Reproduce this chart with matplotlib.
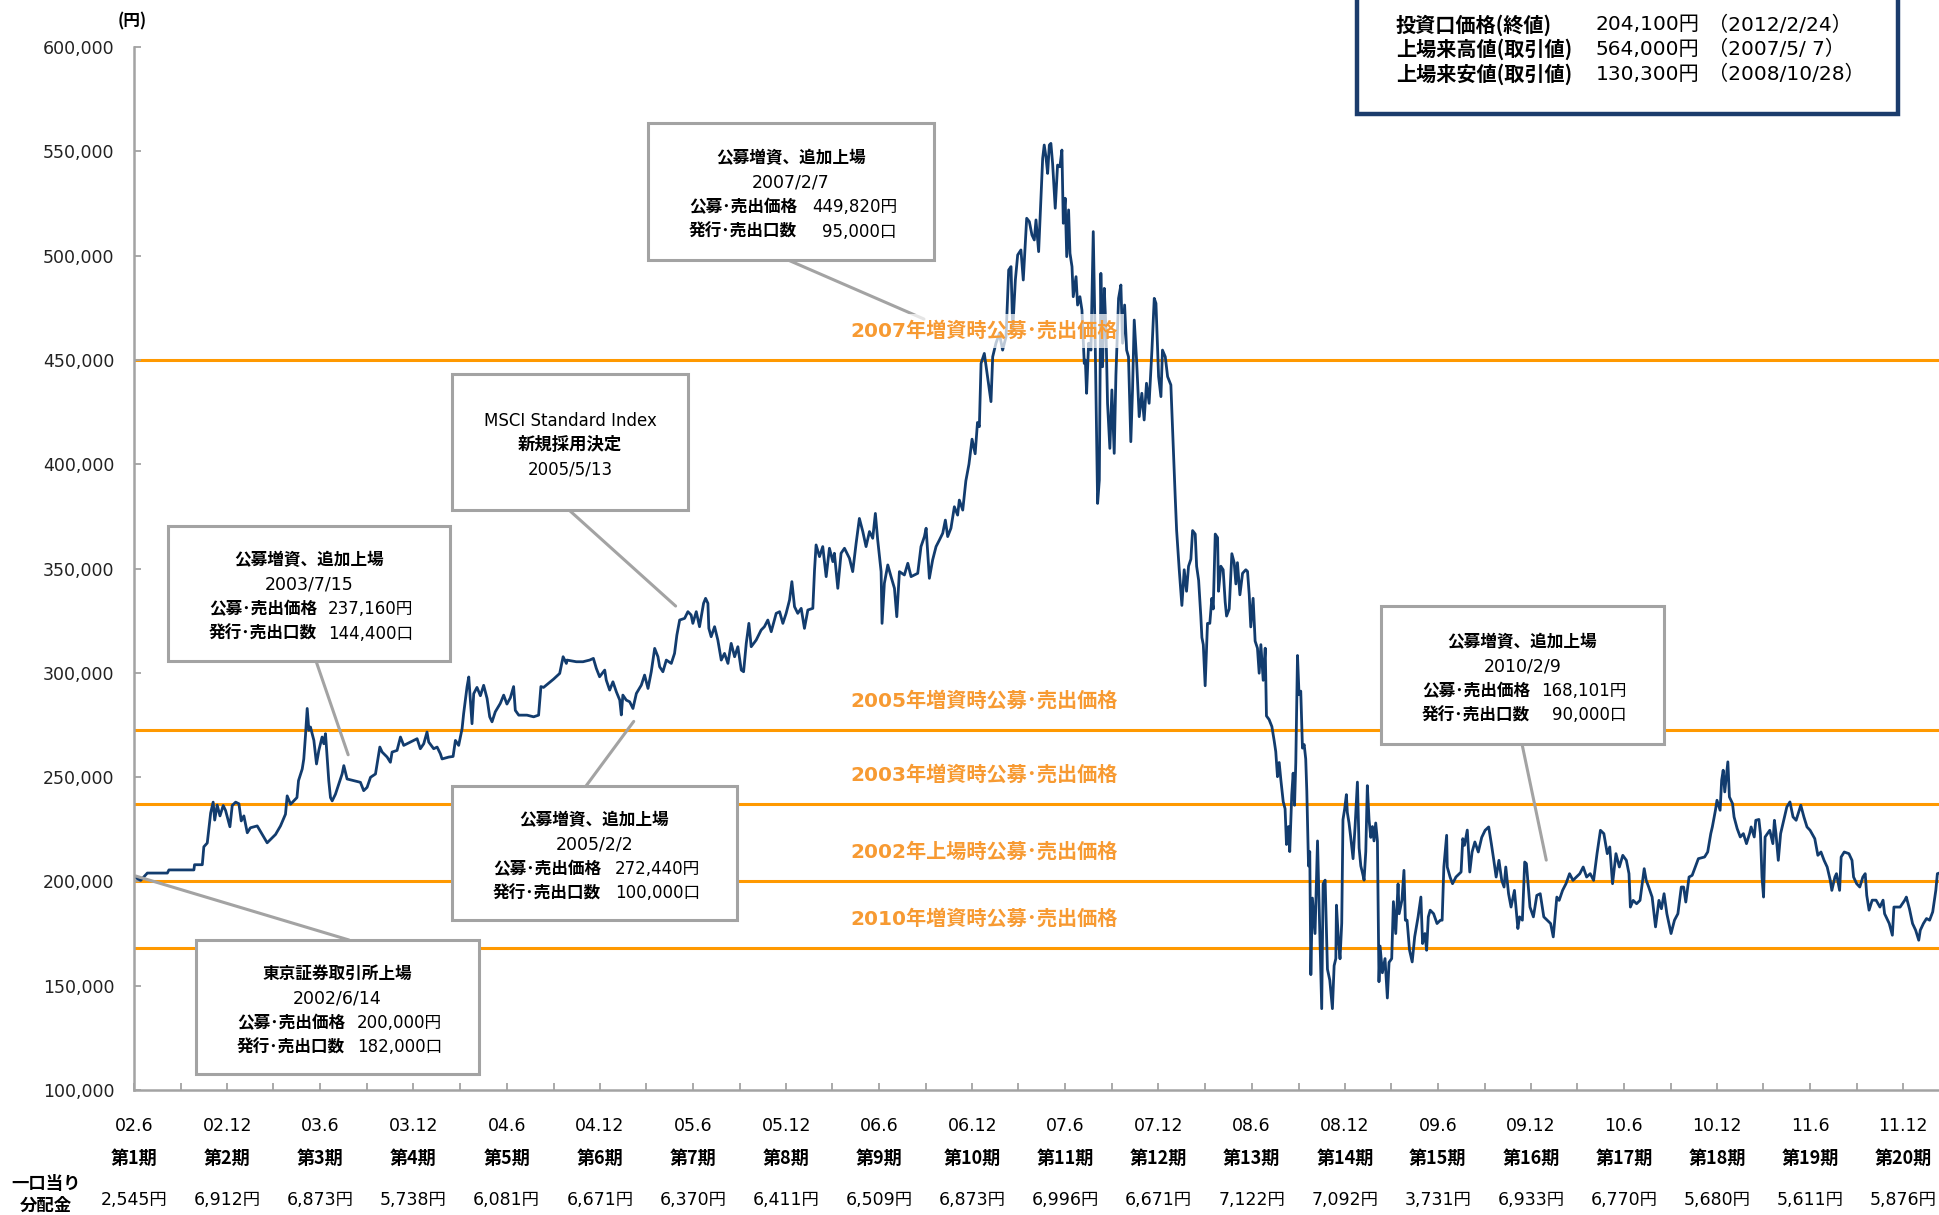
import matplotlib.pyplot as plt
import matplotlib.ticker as mticker
from matplotlib.patches import Rectangle
import numpy as np
import pandas as pd

plt.rcParams['font.family'] = ['DejaVu Sans', 'Noto Sans CJK JP']
CJK = ['Noto Sans CJK JP', 'DejaVu Sans']

listing_day = pd.Timestamp('2002-06-14')
last_day = pd.Timestamp('2012-02-24')

# unit price: (months since listing, price in thousand yen)
trace_2002_2004 = [
    (0.0, 202.2), (0.43, 200.5), (0.86, 204.0), (2.15, 204.0), (2.25, 205.5), (3.86, 205.5),
    (3.9, 208.0), (4.4, 208.0), (4.5, 216.6), (4.72, 218.4), (4.94, 232.8), (5.1, 238.0),
    (5.2, 229.4), (5.36, 236.6), (5.54, 231.4), (5.75, 236.4), (5.9, 234.0), (6.18, 226.2),
    (6.33, 236.4), (6.55, 238.0), (6.76, 237.2), (6.91, 229.0), (7.08, 231.4), (7.3, 223.3),
    (7.5, 225.7), (7.94, 226.6), (8.26, 222.5), (8.58, 218.5), (8.8, 220.1), (9.12, 222.5),
    (9.44, 226.6), (9.76, 232.2), (9.87, 241.0), (10.09, 237.0), (10.5, 240.2), (10.6, 248.3),
    (10.84, 253.9), (10.94, 258.7), (11.05, 270.0), (11.16, 282.9), (11.27, 272.4), (11.37, 274.0),
    (11.59, 267.6), (11.76, 256.3), (11.91, 262.8), (12.12, 269.2), (12.23, 266.0), (12.34, 270.8),
    (12.45, 258.7), (12.55, 248.3), (12.66, 240.2), (12.77, 238.6), (12.98, 241.8), (13.2, 246.7),
    (13.41, 251.5), (13.52, 255.5), (13.73, 249.1), (14.16, 248.3), (14.59, 247.5), (14.8, 243.5),
    (15.02, 245.1), (15.24, 249.9), (15.56, 251.5), (15.84, 264.4), (15.99, 262.0), (16.31, 259.6),
    (16.52, 257.1), (16.63, 262.0), (16.95, 262.8), (17.17, 269.2), (17.38, 265.2), (17.81, 266.8),
    (18.24, 268.4), (18.45, 263.6), (18.67, 266.0), (18.88, 271.6), (18.99, 266.8), (19.31, 263.6),
    (19.53, 264.4), (19.74, 261.2), (19.85, 258.7), (20.28, 259.6), (20.56, 259.9), (20.71, 267.6),
    (20.92, 265.2), (21.14, 273.2), (21.24, 280.4), (21.46, 293.3), (21.57, 298.0), (21.78, 275.6),
    (21.89, 290.0), (22.1, 293.0), (22.32, 289.0), (22.53, 294.0), (22.75, 287.7), (22.92, 278.9),
    (23.07, 276.5), (23.28, 281.3), (23.6, 285.3), (23.82, 289.3), (24.03, 285.0), (24.25, 288.0),
    (24.46, 293.4), (24.57, 282.0), (24.79, 279.7), (25.32, 279.7), (25.75, 278.9), (26.07, 279.7),
    (26.22, 293.4), (26.39, 293.0), (26.72, 295.0), (27.04, 297.0),
]
trace_2004_2006 = [
    (27.43, 299.7), (27.65, 307.7), (27.86, 304.5), (27.9, 306.1), (28.5, 305.3), (28.93, 305.3),
    (29.36, 306.1), (29.6, 306.9), (29.79, 302.1), (30.0, 298.1), (30.33, 301.3), (30.43, 296.5),
    (30.65, 291.7), (30.86, 295.7), (31.08, 290.9), (31.3, 286.9), (31.4, 279.8), (31.5, 289.3),
    (31.72, 286.9), (31.94, 286.1), (32.15, 282.9), (32.37, 290.1), (32.69, 294.1), (32.9, 298.9),
    (33.12, 292.5), (33.33, 300.5), (33.55, 311.7), (33.76, 307.7), (33.87, 302.9), (34.08, 300.5),
    (34.3, 306.1), (34.62, 304.5), (34.83, 309.3), (34.98, 318.1), (35.16, 325.3), (35.48, 326.1),
    (35.69, 329.3), (35.9, 327.7), (36.01, 323.7), (36.23, 329.3), (36.44, 322.1), (36.7, 333.3),
    (36.83, 335.7), (36.98, 333.3), (37.04, 321.3), (37.19, 317.3), (37.41, 322.1), (37.62, 315.7),
    (37.84, 306.1), (38.05, 309.3), (38.27, 304.5), (38.48, 314.1), (38.7, 307.7), (38.91, 312.5),
    (39.13, 301.3), (39.28, 300.5), (39.45, 314.1), (39.62, 323.7), (39.77, 312.5), (40.09, 315.7),
    (40.41, 320.5), (40.62, 322.1), (40.84, 325.3), (41.06, 319.7), (41.38, 328.5), (41.6, 329.3),
    (41.81, 323.7), (42.02, 328.5), (42.24, 334.9), (42.39, 343.7), (42.56, 331.7), (42.77, 328.5),
    (42.99, 330.9), (43.2, 321.3), (43.42, 330.1), (43.74, 330.9), (43.85, 349.3), (43.95, 361.3),
    (44.17, 355.7), (44.38, 360.5), (44.6, 346.1), (44.81, 359.7), (45.03, 353.3), (45.13, 357.3),
    (45.35, 340.5), (45.56, 357.3), (45.78, 359.7), (46.1, 354.9), (46.31, 348.5), (46.53, 362.1),
    (46.74, 374.0), (46.96, 367.7), (47.17, 360.5), (47.39, 367.7), (47.6, 364.5), (47.77, 376.4),
    (47.92, 363.7), (48.14, 348.5), (48.2, 323.7), (48.35, 342.9), (48.57, 351.7), (48.78, 346.1),
    (49.0, 340.5), (49.15, 326.9), (49.32, 348.5), (49.64, 346.9), (49.86, 352.5), (50.07, 346.1),
    (50.5, 347.7), (50.71, 360.5), (50.93, 365.3), (51.04, 369.3), (51.25, 345.3), (51.46, 354.1),
    (51.68, 360.5), (51.9, 363.7), (52.11, 366.9), (52.28, 373.2), (52.43, 365.3), (52.64, 369.3),
    (52.86, 379.6), (53.07, 375.6), (53.18, 382.8), (53.4, 378.0), (53.6, 392.0), (53.8, 400.0),
    (54.0, 412.0), (54.2, 405.0), (54.35, 420.0),
]
trace_2006_2008 = [
    (54.47, 418.0), (54.58, 448.3), (54.79, 453.1), (55.0, 442.0), (55.22, 430.0), (55.33, 451.5),
    (55.54, 458.0), (55.76, 462.7), (55.97, 454.7), (56.19, 461.1), (56.36, 493.1), (56.51, 494.7),
    (56.62, 464.3), (56.79, 488.3), (56.94, 500.3), (57.15, 502.7), (57.3, 488.3), (57.43, 505.9),
    (57.52, 517.9), (57.69, 516.3), (57.86, 509.9), (58.01, 507.5), (58.12, 517.1), (58.29, 501.9),
    (58.44, 528.2), (58.55, 546.6), (58.65, 553.0), (58.76, 547.4), (58.87, 539.4), (58.98, 553.0),
    (59.08, 553.8), (59.19, 544.2), (59.36, 522.7), (59.51, 543.4), (59.66, 542.6), (59.79, 550.6),
    (59.88, 515.5), (60.0, 527.5), (60.1, 499.5), (60.22, 521.9), (60.31, 501.1), (60.44, 494.7),
    (60.52, 480.3), (60.7, 489.9), (60.8, 476.3), (60.95, 480.3), (61.08, 473.9), (61.23, 448.3),
    (61.3, 449.9), (61.38, 434.0), (61.51, 458.0), (61.66, 454.7), (61.81, 511.5), (61.94, 456.3),
    (62.09, 381.2), (62.2, 392.4), (62.3, 491.5), (62.41, 446.7), (62.52, 484.3), (62.63, 464.3),
    (62.73, 429.2), (62.88, 407.6), (63.01, 435.6), (63.16, 405.2), (63.27, 442.8), (63.44, 479.5),
    (63.59, 485.9), (63.7, 458.0), (63.83, 476.3), (63.96, 454.7), (64.08, 451.5), (64.23, 410.8),
    (64.34, 435.6), (64.45, 469.1), (64.6, 450.0), (64.77, 422.8), (64.94, 434.0), (65.09, 421.2),
    (65.24, 438.8), (65.41, 429.2), (65.59, 454.7), (65.74, 479.5), (65.85, 477.1), (66.02, 442.0),
    (66.17, 432.4), (66.27, 454.7), (66.45, 451.5), (66.6, 442.0), (66.81, 438.0), (66.92, 416.4),
    (67.09, 384.4), (67.18, 368.4),
]
trace_2008 = [
    (67.35, 349.4), (67.52, 332.3), (67.67, 349.4), (67.82, 339.1), (67.95, 351.1), (68.1, 354.5),
    (68.21, 368.2), (68.38, 366.5), (68.47, 351.1), (68.6, 344.3), (68.74, 327.2), (68.81, 316.9),
    (68.9, 313.5), (69.02, 293.8), (69.17, 323.7), (69.32, 323.7), (69.45, 335.7), (69.54, 330.6),
    (69.67, 366.5), (69.82, 364.8), (69.88, 339.1), (70.03, 351.1), (70.18, 349.4), (70.31, 334.0),
    (70.4, 327.2), (70.57, 330.6), (70.74, 357.1), (70.89, 352.8), (71.0, 342.6), (71.1, 352.8),
    (71.26, 337.4), (71.43, 347.7), (71.64, 349.4), (71.75, 348.6), (71.86, 337.4), (71.96, 322.0),
    (72.11, 335.7), (72.24, 315.2), (72.39, 311.8), (72.5, 299.8), (72.61, 313.5), (72.76, 296.4),
    (72.89, 311.8), (72.97, 279.3), (73.14, 277.6), (73.32, 274.2), (73.47, 267.3), (73.57, 262.2),
    (73.68, 250.2), (73.79, 257.0), (73.9, 248.5), (74.05, 238.2), (74.17, 234.8), (74.26, 217.7),
    (74.39, 226.3), (74.47, 214.3), (74.6, 241.6), (74.69, 251.9), (74.78, 236.5), (74.86, 257.0),
    (74.97, 308.3), (75.07, 289.5), (75.18, 291.2), (75.29, 263.9), (75.4, 265.6), (75.5, 258.7),
    (75.57, 243.3), (75.68, 207.4), (75.76, 214.3), (75.83, 155.3), (75.93, 192.0), (76.1, 175.0),
    (76.26, 219.4), (76.36, 190.3), (76.53, 139.0), (76.62, 198.8), (76.75, 200.6), (76.9, 157.9),
    (77.05, 152.7), (77.22, 139.0), (77.33, 159.6), (77.44, 163.0), (77.48, 188.6), (77.61, 171.5),
    (77.71, 162.9), (77.82, 180.0), (77.9, 229.6), (78.01, 234.8), (78.12, 241.6), (78.18, 233.1),
    (78.29, 228.0), (78.4, 221.1), (78.55, 210.9), (78.68, 226.3), (78.83, 247.6), (78.94, 216.0),
    (79.05, 207.4), (79.16, 204.0), (79.26, 200.6), (79.37, 214.3), (79.47, 245.9), (79.58, 229.6),
    (79.69, 221.1), (79.8, 226.3), (79.9, 219.4), (80.01, 228.0), (80.12, 219.4), (80.22, 151.9),
    (80.29, 169.0), (80.44, 156.2), (80.61, 163.0), (80.76, 144.1), (80.87, 161.2), (81.04, 163.0),
    (81.15, 190.3), (81.3, 175.0), (81.45, 198.8),
]
trace_2009_2012 = [
    (81.52, 184.5), (81.7, 191.0), (81.83, 205.3), (81.92, 181.4), (82.03, 181.4), (82.19, 167.0),
    (82.36, 161.4), (82.52, 173.4), (82.74, 183.0), (82.92, 192.5), (83.03, 170.2), (83.18, 175.0),
    (83.29, 167.0), (83.4, 183.0), (83.52, 186.2), (83.74, 184.5), (83.96, 179.8), (84.18, 181.4),
    (84.29, 181.4), (84.4, 206.9), (84.58, 222.1), (84.62, 206.9), (84.8, 202.1), (84.96, 198.9),
    (85.18, 202.1), (85.4, 203.7), (85.51, 204.5), (85.62, 220.5), (85.73, 217.3), (85.91, 224.6),
    (86.07, 204.5), (86.22, 214.1), (86.4, 218.9), (86.62, 214.1), (86.84, 221.1), (87.06, 224.5),
    (87.29, 226.1), (87.46, 218.1), (87.62, 210.1), (87.77, 202.1), (87.95, 210.1), (88.13, 200.5),
    (88.28, 197.3), (88.39, 206.9), (88.57, 194.1), (88.73, 187.7), (88.95, 195.7), (89.17, 177.4),
    (89.28, 183.0), (89.46, 181.4), (89.61, 209.3), (89.72, 208.5), (89.95, 187.7), (90.17, 183.0),
    (90.39, 193.3), (90.61, 194.1), (90.84, 183.0), (91.06, 181.4), (91.28, 179.8), (91.45, 173.4),
    (91.68, 192.5), (91.83, 190.9), (92.05, 195.7), (92.27, 198.9), (92.5, 203.7), (92.72, 200.5),
    (92.94, 202.1), (93.16, 203.7), (93.38, 206.9), (93.6, 202.1), (93.83, 203.7), (94.05, 200.5),
    (94.27, 213.3), (94.49, 224.5), (94.71, 222.9), (94.93, 213.3), (95.09, 216.5), (95.27, 198.9),
    (95.49, 213.3), (95.71, 206.9), (95.93, 212.5), (96.16, 210.1), (96.33, 203.7), (96.42, 187.7),
    (96.6, 190.9), (96.82, 189.3), (97.04, 190.9), (97.31, 206.1), (97.44, 200.5), (97.6, 197.3),
    (97.82, 192.5), (98.04, 178.2), (98.26, 190.9), (98.42, 186.9), (98.59, 194.1), (98.77, 184.5),
    (99.04, 175.0), (99.26, 181.4), (99.48, 184.5), (99.7, 197.3), (99.85, 197.3), (99.99, 190.1),
    (100.2, 202.1), (100.4, 202.9), (100.6, 206.9), (100.8, 210.9), (101.2, 211.7), (101.4, 214.1),
    (101.6, 222.9), (101.7, 226.1), (101.9, 234.1), (102.0, 238.9), (102.2, 234.1), (102.3, 248.5),
    (102.4, 253.3), (102.5, 242.9), (102.7, 257.3), (102.8, 240.5), (103.0, 237.3), (103.1, 230.9),
    (103.3, 225.3), (103.5, 221.3), (103.7, 222.9), (103.9, 218.1), (104.1, 222.9), (104.2, 226.1),
    (104.4, 221.3), (104.5, 229.3), (104.7, 229.7), (104.8, 222.9), (104.9, 202.1), (105.0, 192.5),
    (105.1, 221.3), (105.4, 224.5), (105.6, 218.1), (105.7, 229.3), (105.8, 222.9), (105.95, 210.1),
    (106.1, 222.9), (106.3, 229.3), (106.5, 235.7), (106.7, 238.1), (106.9, 230.9), (107.1, 229.3),
    (107.4, 236.5), (107.6, 230.9), (107.8, 226.1), (108.0, 224.5), (108.3, 220.5), (108.5, 212.5),
    (108.7, 214.1), (108.9, 210.1), (109.1, 206.9), (109.3, 200.5), (109.4, 195.7), (109.6, 202.1),
    (109.7, 203.7), (109.9, 195.7), (110.0, 211.7), (110.2, 214.1), (110.5, 213.3), (110.7, 210.1),
    (110.8, 202.1), (111.0, 198.9), (111.2, 197.3), (111.4, 202.1), (111.55, 203.7), (111.65, 193.3),
    (111.8, 186.2), (112.0, 191.0), (112.25, 191.0), (112.5, 187.7), (112.7, 191.0), (112.8, 184.5),
    (113.1, 179.8), (113.3, 174.2), (113.4, 187.7), (113.8, 187.7), (114.1, 191.0), (114.2, 192.5),
    (114.4, 186.9), (114.6, 179.8), (114.8, 176.6), (115.0, 171.8), (115.1, 176.6), (115.3, 179.8),
    (115.5, 182.2), (115.7, 181.4), (115.9, 185.4), (116.1, 195.7), (116.2, 203.7), (116.37, 204.1),
]

offer_prices = [449820, 272440, 237160, 200000, 168101]
offer_labels = ["2007年増資時公募･売出価格", "2005年増資時公募･売出価格", "2003年増資時公募･売出価格",
                "2002年上場時公募･売出価格", "2010年増資時公募･売出価格"]

period_ends = ["02.6", "02.12", "03.6", "03.12", "04.6", "04.12", "05.6", "05.12", "06.6", "06.12",
               "07.6", "07.12", "08.6", "08.12", "09.6", "09.12", "10.6", "10.12", "11.6", "11.12"]
period_names = ["第1期", "第2期", "第3期", "第4期", "第5期", "第6期", "第7期", "第8期", "第9期", "第10期",
                "第11期", "第12期", "第13期", "第14期", "第15期", "第16期", "第17期", "第18期", "第19期", "第20期"]
dividends = [2545, 6912, 6873, 5738, 6081, 6671, 6370, 6411, 6509, 6873,
             6996, 6671, 7122, 7092, 3731, 6933, 6770, 5680, 5611, 5876]

summary_rows = [("投資口価格(終値)", "204,100円", "（2012/2/24）"),
                ("上場来高値(取引値)", "564,000円", "（2007/5/ 7）"),
                ("上場来安値(取引値)", "130,300円", "（2008/10/28）")]

# callouts: lines of text, box (left, top, right, bottom in px), pointer base (px), pointer tip (months, price)
callouts = [
    (["公募増資、追加上場", "2007/2/7", ("公募･売出価格", "449,820円"), ("発行･売出口数", "95,000口")],
     (648, 123, 934, 260), (788, 260), (50.9, 469600)),
    (["MSCI Standard Index", "新規採用決定", "2005/5/13"],
     (452, 374, 688, 510), (569, 510), (34.9, 332000)),
    (["公募増資、追加上場", "2003/7/15", ("公募･売出価格", "237,160円"), ("発行･売出口数", "144,400口")],
     (168, 526, 450, 661), (316, 661), (13.8, 260700)),
    (["公募増資、追加上場", "2005/2/2", ("公募･売出価格", "272,440円"), ("発行･売出口数", "100,000口")],
     (452, 786, 737, 920), (586, 786), (32.2, 276700)),
    (["東京証券取引所上場", "2002/6/14", ("公募･売出価格", "200,000円"), ("発行･売出口数", "182,000口")],
     (196, 940, 479, 1074), (349, 940), (0.1, 202600)),
    (["公募増資、追加上場", "2010/2/9", ("公募･売出価格", "168,101円"), ("発行･売出口数", "90,000口")],
     (1381, 606, 1664, 744), (1522, 744), (91.0, 210200)),
]

W, H = 1940, 1215
NAVY = '#123C6E'
ORANGE = '#FF9900'
ORANGE_TXT = '#F79A32'
GRAY = '#A3A3A3'


def month_date(m):
    return listing_day + pd.to_timedelta(np.asarray(m) * 30.4375, unit='D')


def fxy(px, py):
    return px / W, 1 - py / H


trace = trace_2002_2004 + trace_2004_2006 + trace_2006_2008 + trace_2008 + trace_2009_2012
months = np.array([p[0] for p in trace])
price = np.array([p[1] for p in trace]) * 1000
dates = month_date(months)

fig = plt.figure(figsize=(W / 100, H / 100), dpi=100)
ax = fig.add_axes([134 / W, 1 - 1090 / H, (W - 134) / W, (1090 - 47) / H])

for val in offer_prices:
    ax.axhline(val, color=ORANGE, lw=2.2, zorder=1)

ax.plot(dates, price, color=NAVY, lw=2.0, zorder=2)

for val, lab in zip(offer_prices, offer_labels):
    t = ax.annotate(lab, xy=(0.4705, val), xycoords=ax.get_yaxis_transform(),
                    xytext=(0, 21), textcoords='offset points', ha='center', va='center',
                    fontsize=14.5, color=ORANGE_TXT, fontweight='bold', zorder=4)
    if val == offer_prices[0]:
        t.set_bbox(dict(facecolor='white', edgecolor='none', alpha=0.72, pad=5))

ax.set_xlim(listing_day, last_day)
ax.set_ylim(100000, 600000)
ax.yaxis.set_major_locator(mticker.MultipleLocator(50000))
ax.yaxis.set_major_formatter(mticker.FuncFormatter(lambda v, p: f"{int(v):,}"))

tick_dates = [listing_day + pd.DateOffset(months=3 * k) for k in range(39)]
ax.set_xticks(tick_dates)
ax.set_xticklabels([])
ax.tick_params(axis='both', direction='in', length=5, width=1.3, color=GRAY)
ax.tick_params(axis='y', labelsize=12.5, labelcolor='#222222', pad=14)

for s in ['top', 'right']:
    ax.spines[s].set_visible(False)
for s in ['left', 'bottom']:
    ax.spines[s].set_color(GRAY)
    ax.spines[s].set_linewidth(1.8)

fig.text(*fxy(132, 21), "(円)", ha='center', va='center', fontsize=12, fontweight='bold', family=CJK)

# table below the axis
trans = ax.get_xaxis_transform()
for k in range(len(period_ends)):
    d = listing_day + pd.DateOffset(months=6 * k)
    ax.text(d, -0.0345, period_ends[k], transform=trans, ha='center', va='center', fontsize=12.5)
    ax.text(d, -0.0655, period_names[k], transform=trans, ha='center', va='center',
            fontsize=13, fontweight='bold', family=CJK)
    ax.text(d, -0.1055, f"{dividends[k]:,}円", transform=trans, ha='center', va='center', fontsize=12.5)
fig.text(*fxy(46, 1184), "一口当り", ha='center', va='center', fontsize=12.5, fontweight='bold', family=CJK)
fig.text(*fxy(46, 1206), "分配金", ha='center', va='center', fontsize=12.5, fontweight='bold', family=CJK)

# callout boxes
for lines, (l, t, r, b), base, tip in callouts:
    ax.annotate('', xy=(month_date(tip[0]), tip[1]), xycoords='data',
                xytext=fxy(*base), textcoords='figure fraction',
                arrowprops=dict(arrowstyle='-', color=GRAY, lw=2.2, shrinkA=0, shrinkB=0))
    fig.add_artist(Rectangle(fxy(l, b), (r - l) / W, (b - t) / H, transform=fig.transFigure,
                             facecolor='white', edgecolor=GRAY, lw=2.2, zorder=5))
    cx = (l + r) / 2
    n = len(lines)
    step = 24.5
    y0 = (t + b) / 2 - step * (n - 1) / 2 + 3.5
    for i, line in enumerate(lines):
        y = y0 + i * step
        if isinstance(line, tuple):
            fig.text(*fxy(l + 41, y), line[0], ha='left', va='center', fontsize=12,
                     fontweight='bold', family=CJK, zorder=6)
            fig.text(*fxy(r - 37, y), line[1], ha='right', va='center', fontsize=12, zorder=6)
        else:
            bold = (i == 0 and n == 4) or line == "新規採用決定"
            fig.text(*fxy(cx, y), line, ha='center', va='center', fontsize=12.5 if i == 1 else 12,
                     fontweight='bold' if bold else 'normal', zorder=6)

# summary box at top right
fig.add_artist(Rectangle(fxy(1357, 114), (1898 - 1357) / W, 130 / H, transform=fig.transFigure,
                         facecolor='white', edgecolor='#1B3C6C', lw=3.2, zorder=5))
for i, (lab, val, day) in enumerate(summary_rows):
    y = 25 + i * 24.5
    fig.text(*fxy(1396, y), lab, ha='left', va='center', fontsize=14.5, fontweight='bold',
             family=CJK, zorder=6)
    fig.text(*fxy(1596, y), val, ha='left', va='center', fontsize=14.5, zorder=6)
    fig.text(*fxy(1708, y), day, ha='left', va='center', fontsize=14.5, zorder=6)

fig.savefig('out.png', dpi=100)
